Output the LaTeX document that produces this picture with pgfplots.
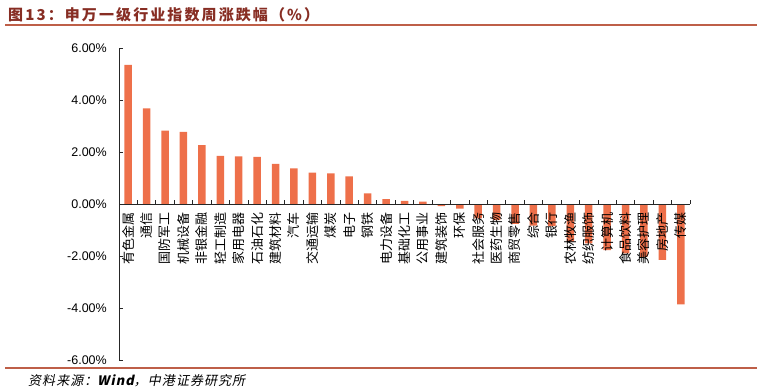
\documentclass[border=0pt]{standalone}
\usepackage{fontspec}
\setmainfont{Liberation Sans}
\newfontfamily\cjk{Noto Sans CJK SC}
\newfontfamily\cjkt[LetterSpace=14]{Noto Sans CJK SC}
\newfontfamily\cjks[FakeSlant=0.2,LetterSpace=8]{Noto Sans CJK SC}
\usepackage{pgfplots}
\usepackage{pgfplotstable}
\pgfplotsset{compat=1.18}
\definecolor{barc}{RGB}{238,112,74}
\definecolor{titlec}{RGB}{135,45,35}
\definecolor{linec}{RGB}{190,95,72}

\pgfplotstableread{
x y
0 5.35
1 3.68
2 2.82
3 2.77
4 2.26
5 1.85
6 1.83
7 1.81
8 1.54
9 1.37
10 1.21
11 1.18
12 1.06
13 0.41
14 0.19
15 0.12
16 0.09
17 -0.08
18 -0.18
19 -0.55
20 -0.62
21 -0.76
22 -0.83
23 -0.85
24 -1.45
25 -1.51
26 -1.77
27 -1.90
28 -2.03
29 -2.15
30 -3.86
}\data

\begin{document}
\begin{tikzpicture}
\path[use as bounding box] (0pt,0pt) rectangle (762pt,391pt);
\begin{axis}[
  at={(119pt,31pt)}, anchor=south west,
  scale only axis, width=571pt, height=312pt,
  xmin=-0.5, xmax=30.5, ymin=-6, ymax=6,
  axis x line=middle, axis y line=left,
  axis on top,
  axis line style={-, black!85, line width=0.8pt},
  hide obscured x ticks=false, hide obscured y ticks=false,
  tick align=inside,
  major tick length=4pt, minor tick length=4pt,
  tick style={black!85, line width=0.8pt},
  major x tick style={draw=none},
  xtick={0,...,30},
  minor xtick={-0.5,0.5,...,30.5},
  xticklabels={有色金属,通信,国防军工,机械设备,非银金融,轻工制造,家用电器,石油石化,建筑材料,汽车,交通运输,煤炭,电子,钢铁,电力设备,基础化工,公用事业,建筑装饰,环保,社会服务,医药生物,商贸零售,综合,银行,农林牧渔,纺织服饰,计算机,食品饮料,美容护理,房地产,传媒},
  xticklabel style={rotate=90, anchor=east, inner sep=0pt, font=\cjk\fontsize{13}{13}\selectfont},
  xticklabel shift=8pt,
  ytick={-6,-4,...,6},
  yticklabels={-6.00\%,-4.00\%,-2.00\%,0.00\%,2.00\%,4.00\%,6.00\%},
  yticklabel style={anchor=east, inner sep=0pt, font=\fontsize{12.5}{12.5}\selectfont},
  yticklabel shift=12pt,
  clip=false,
]
\addplot[ybar, bar width=7.5pt, fill=barc, draw=none] table[x=x,y=y] {\data};
\end{axis}
\node[anchor=base west, text=titlec, font=\cjkt\bfseries\fontsize{15}{15}\selectfont, inner sep=0pt] at (8pt,370pt) {图13：申万一级行业指数周涨跌幅（\%）};
\draw[linec, line width=1.3pt] (5pt,366pt) -- (757pt,366pt);
\draw[linec, line width=1.3pt] (5pt,23pt) -- (757pt,23pt);
\node[anchor=base west, font=\cjks\fontsize{13}{13}\selectfont, inner sep=0pt] at (28pt,6pt) {资料来源：\textbf{Wind}，中港证券研究所};
\end{tikzpicture}
\end{document}
